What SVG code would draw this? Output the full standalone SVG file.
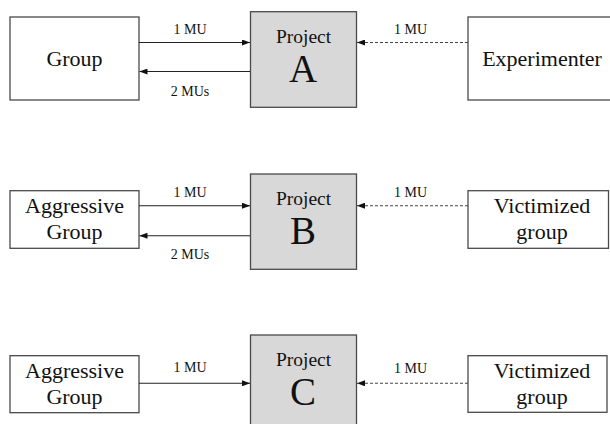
<svg xmlns="http://www.w3.org/2000/svg" width="610" height="424" viewBox="0 0 610 424">
<defs>
<marker id="ah" viewBox="0 0 8 6" refX="8" refY="3" markerWidth="8" markerHeight="6" markerUnits="userSpaceOnUse" orient="auto">
<path d="M0,0 L8,3 L0,6 Z" fill="#111"/>
</marker>
</defs>
<g id="nodes" text-anchor="middle" fill="#111">
<g id="groupA"><rect fill="#fff" stroke="#4a4a4a" stroke-width="1.3" x="10" y="17" width="129" height="83"/><text font-family="Liberation Serif" font-size="22" x="74.5" y="66">Group</text></g>
<g id="projectA"><rect fill="#d8d8d8" stroke="#4a4a4a" stroke-width="1.3" x="250.5" y="11.7" width="106" height="95.6"/><text font-family="Liberation Serif" font-size="19.5" x="303.5" y="42.7">Project</text><text font-family="Liberation Serif" font-size="39" x="303" y="82">A</text></g>
<g id="experimenter"><rect fill="#fff" stroke="#4a4a4a" stroke-width="1.3" x="468" y="17" width="150" height="83"/><text font-family="Liberation Serif" font-size="22" x="542" y="65.5">Experimenter</text></g>
<g id="aggB"><rect fill="#fff" stroke="#4a4a4a" stroke-width="1.3" x="10" y="190.7" width="129" height="57.6"/><text font-family="Liberation Serif" font-size="22" x="74.5" y="213.3">Aggressive</text><text font-family="Liberation Serif" font-size="22" x="74.5" y="239">Group</text></g>
<g id="projectB"><rect fill="#d8d8d8" stroke="#4a4a4a" stroke-width="1.3" x="250.5" y="174" width="106" height="95.3"/><text font-family="Liberation Serif" font-size="19.5" x="303.5" y="205">Project</text><text font-family="Liberation Serif" font-size="39" x="303" y="243.5">B</text></g>
<g id="vicB"><rect fill="#fff" stroke="#4a4a4a" stroke-width="1.3" x="468" y="190.7" width="140.5" height="57.6"/><text font-family="Liberation Serif" font-size="22" x="542" y="213.3">Victimized</text><text font-family="Liberation Serif" font-size="22" x="542" y="238.5">group</text></g>
<g id="aggC"><rect fill="#fff" stroke="#4a4a4a" stroke-width="1.3" x="10" y="355.7" width="129" height="57"/><text font-family="Liberation Serif" font-size="22" x="74.5" y="378">Aggressive</text><text font-family="Liberation Serif" font-size="22" x="74.5" y="403.5">Group</text></g>
<g id="projectC"><rect fill="#d8d8d8" stroke="#4a4a4a" stroke-width="1.3" x="250.5" y="335" width="106" height="95.3"/><text font-family="Liberation Serif" font-size="19.5" x="303.5" y="366">Project</text><text font-family="Liberation Serif" font-size="39" x="303" y="404.5">C</text></g>
<g id="vicC"><rect fill="#fff" stroke="#4a4a4a" stroke-width="1.3" x="468" y="355.7" width="139" height="56.6"/><text font-family="Liberation Serif" font-size="22" x="542" y="378">Victimized</text><text font-family="Liberation Serif" font-size="22" x="542" y="403.5">group</text></g>
</g>
<g id="connectors" fill="none" stroke-width="1.1">
<g stroke="#222">
<line x1="139" y1="42.5" x2="250" y2="42.5" marker-end="url(#ah)"/>
<line x1="250" y1="71.5" x2="139.5" y2="71.5" marker-end="url(#ah)"/>
<line x1="139" y1="205.7" x2="250" y2="205.7" marker-end="url(#ah)"/>
<line x1="250" y1="235.7" x2="139.5" y2="235.7" marker-end="url(#ah)"/>
<line x1="139" y1="383.3" x2="250" y2="383.3" marker-end="url(#ah)"/>
</g>
<g stroke="#444" stroke-dasharray="3 2">
<line x1="468" y1="42.5" x2="357" y2="42.5" marker-end="url(#ah)"/>
<line x1="468" y1="205.7" x2="357" y2="205.7" marker-end="url(#ah)"/>
<line x1="468" y1="383.3" x2="357" y2="383.3" marker-end="url(#ah)"/>
</g>
<g fill="#111" stroke="none" text-anchor="middle">
<text font-family="Liberation Serif" font-size="14" x="190" y="34">1 MU</text>
<text font-family="Liberation Serif" font-size="14" x="190" y="95.7">2 MUs</text>
<text font-family="Liberation Serif" font-size="14" x="410.5" y="34">1 MU</text>
<text font-family="Liberation Serif" font-size="14" x="190" y="197.3">1 MU</text>
<text font-family="Liberation Serif" font-size="14" x="190" y="259">2 MUs</text>
<text font-family="Liberation Serif" font-size="14" x="410.5" y="197.3">1 MU</text>
<text font-family="Liberation Serif" font-size="14" x="190" y="372.3">1 MU</text>
<text font-family="Liberation Serif" font-size="14" x="410.5" y="372.5">1 MU</text>
</g>
</g>
</svg>
